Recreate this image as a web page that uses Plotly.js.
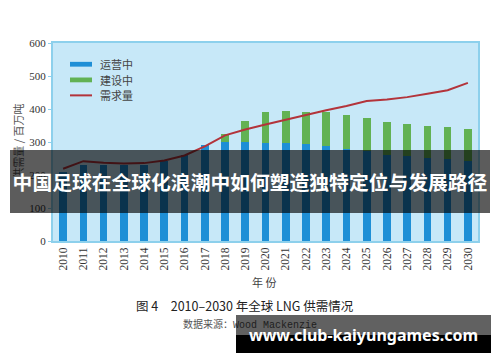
<!DOCTYPE html>
<html>
<head>
<meta charset="utf-8">
<script src="https://cdn.plot.ly/plotly-3.0.1.min.js"></script>
<style>
  html, body { margin: 0; padding: 0; background: #ffffff; }
  #wrap { position: relative; width: 500px; height: 362px; overflow: hidden; }
  #chart { position: absolute; left: 0; top: 0; width: 500px; height: 362px; }
  .ov { position: absolute; }
  #banner { left: 10px; top: 150px; width: 480px; height: 63px; background: rgba(0,0,0,0.64);
            color: #fff; font-family: "Noto Sans CJK SC", sans-serif; font-weight: bold; font-size: 19.8px;
            line-height: 63px; text-align: center; white-space: nowrap; }
  #urlGray { left: 236px; top: 315px; width: 255px; height: 20px; background: rgba(0,0,0,0.62); }
  #urlBlack { left: 236px; top: 335px; width: 255px; height: 18px; background: #000; }
  #urlText { left: 236px; top: 315px; width: 255px; height: 38px; line-height: 40px; color: #fff;
             font-family: "Noto Sans", "Open Sans", sans-serif; font-weight: bold; font-size: 16px;
             text-align: center; white-space: nowrap; }
</style>
</head>
<body>
<div id="wrap">
  <div id="chart"></div>
  <div id="banner" class="ov">中国足球在全球化浪潮中如何塑造独特定位与发展路径</div>
  <div id="urlGray" class="ov"></div>
  <div id="urlBlack" class="ov"></div>
  <div id="urlText" class="ov">www.club-kaiyungames.com</div>
</div>
<script>
// ---- data ----
const years = ['2010','2011','2012','2013','2014','2015','2016','2017','2018','2019','2020',
               '2021','2022','2023','2024','2025','2026','2027','2028','2029','2030'];
const operating    = [208, 230, 230, 230, 230, 241, 262, 292, 300, 300, 297, 297, 293, 287, 280, 273, 261, 257, 252, 247, 242];
const construction = [0, 0, 0, 0, 0, 0, 0, 0, 23, 65, 93, 96, 99, 103, 101, 99, 100, 98, 98, 97, 98];
const demand       = [219, 242, 237, 235, 236, 244, 259, 287, 320, 338, 353, 368, 382, 396, 409, 424, 429, 436, 446, 457, 479];
const seriesNames  = ['运营中', '建设中', '需求量'];
const yAxisTitle   = '供需量 / 百万吨';
const xAxisTitle   = '年 份';
const captionText  = '图 4　2010–2030 年全球 LNG 供需情况';
const sourceLabel  = '数据来源：';
const sourceName   = 'Wood Mackenzie';

// ---- styles ----
const cBlue = '#1e8fd6', cGreen = '#62b254', cRed = '#b3343b';
const cBorder = '#8dd0ec', cBg = '#c7e8f8';

const traces = [
  { type: 'bar', x: years, y: operating, name: seriesNames[0], marker: { color: cBlue }, showlegend: false, hoverinfo: 'skip' },
  { type: 'bar', x: years, y: construction, name: seriesNames[1], marker: { color: cGreen }, showlegend: false, hoverinfo: 'skip' },
  { type: 'scatter', mode: 'lines', x: years, y: demand, name: seriesNames[2], line: { color: cRed, width: 2 }, showlegend: false, hoverinfo: 'skip' }
];

// plot area in pixels: x 53..478, y 43..241.5
const L = 53, R = 22, T = 43, B = 120.5;
const PW = 500 - L - R, PH = 362 - T - B;
const px = v => (v - L) / PW;
const py = v => (362 - B - v) / PH;

// custom legend (wide swatches like the reference)
const legRows = [64.3, 80, 95.5];
const shapes = [
  { type: 'rect', xref: 'paper', yref: 'paper', x0: px(70), x1: px(92), y0: py(legRows[0] + 2.4), y1: py(legRows[0] - 2.4), fillcolor: cBlue, line: { width: 0 } },
  { type: 'rect', xref: 'paper', yref: 'paper', x0: px(70), x1: px(92), y0: py(legRows[1] + 2.4), y1: py(legRows[1] - 2.4), fillcolor: cGreen, line: { width: 0 } },
  { type: 'line', xref: 'paper', yref: 'paper', x0: px(70), x1: px(92), y0: py(legRows[2]), y1: py(legRows[2]), line: { color: cRed, width: 2 } }
];
const legFont = { family: '"Noto Sans CJK SC", sans-serif', size: 11, color: '#444' };
const annotations = seriesNames.map((n, i) => ({
  xref: 'paper', yref: 'paper', x: px(98), y: py(legRows[i]), xanchor: 'left', yanchor: 'middle',
  text: n, showarrow: false, font: legFont
}));
annotations.push(
  { xref: 'paper', yref: 'paper', x: px(18), y: py(142), xanchor: 'center', yanchor: 'middle', textangle: -90,
    text: yAxisTitle, showarrow: false, font: { family: '"Noto Sans CJK SC", sans-serif', size: 11, color: '#555' } },
  { xref: 'paper', yref: 'paper', x: px(264), y: py(283), xanchor: 'center', yanchor: 'middle',
    text: xAxisTitle, showarrow: false, font: { family: '"Noto Sans CJK SC", sans-serif', size: 11, color: '#444' } },
  { xref: 'paper', yref: 'paper', x: px(245), y: py(306.5), xanchor: 'center', yanchor: 'middle',
    text: captionText, showarrow: false, font: { family: '"Noto Sans CJK SC", sans-serif', size: 12.5, color: '#222' } },
  { xref: 'paper', yref: 'paper', x: px(181), y: py(324), xanchor: 'left', yanchor: 'middle',
    text: sourceLabel + '<span style="font-family:\'Liberation Mono\', monospace">' + sourceName + '</span>',
    showarrow: false, font: { family: '"Noto Sans CJK SC", sans-serif', size: 10, color: '#555' } }
);

const layout = {
  width: 500, height: 362,
  margin: { l: L, r: R, t: T, b: B, pad: 0 },
  paper_bgcolor: '#ffffff', plot_bgcolor: cBg,
  barmode: 'stack', bargap: 0.62,
  showlegend: false,
  xaxis: {
    type: 'category', range: [-0.5, 20.5], tickangle: -90, ticks: '',
    tickfont: { family: '"Liberation Serif", serif', size: 11.5, color: '#333' },
    showgrid: false, zeroline: false,
    showline: true, mirror: true, linecolor: cBorder, linewidth: 2
  },
  yaxis: {
    range: [0, 600], dtick: 100, tick0: 0, ticks: 'outside', ticklen: 3, tickwidth: 1, tickcolor: cBorder,
    tickfont: { family: '"Liberation Serif", serif', size: 11, color: '#333' },
    showgrid: false, zeroline: false,
    showline: true, mirror: true, linecolor: cBorder, linewidth: 2
  },
  shapes: shapes,
  annotations: annotations,
  font: { family: '"Noto Sans CJK SC", sans-serif' }
};

Plotly.newPlot('chart', traces, layout, { staticPlot: true, displayModeBar: false });
</script>
</body>
</html>
